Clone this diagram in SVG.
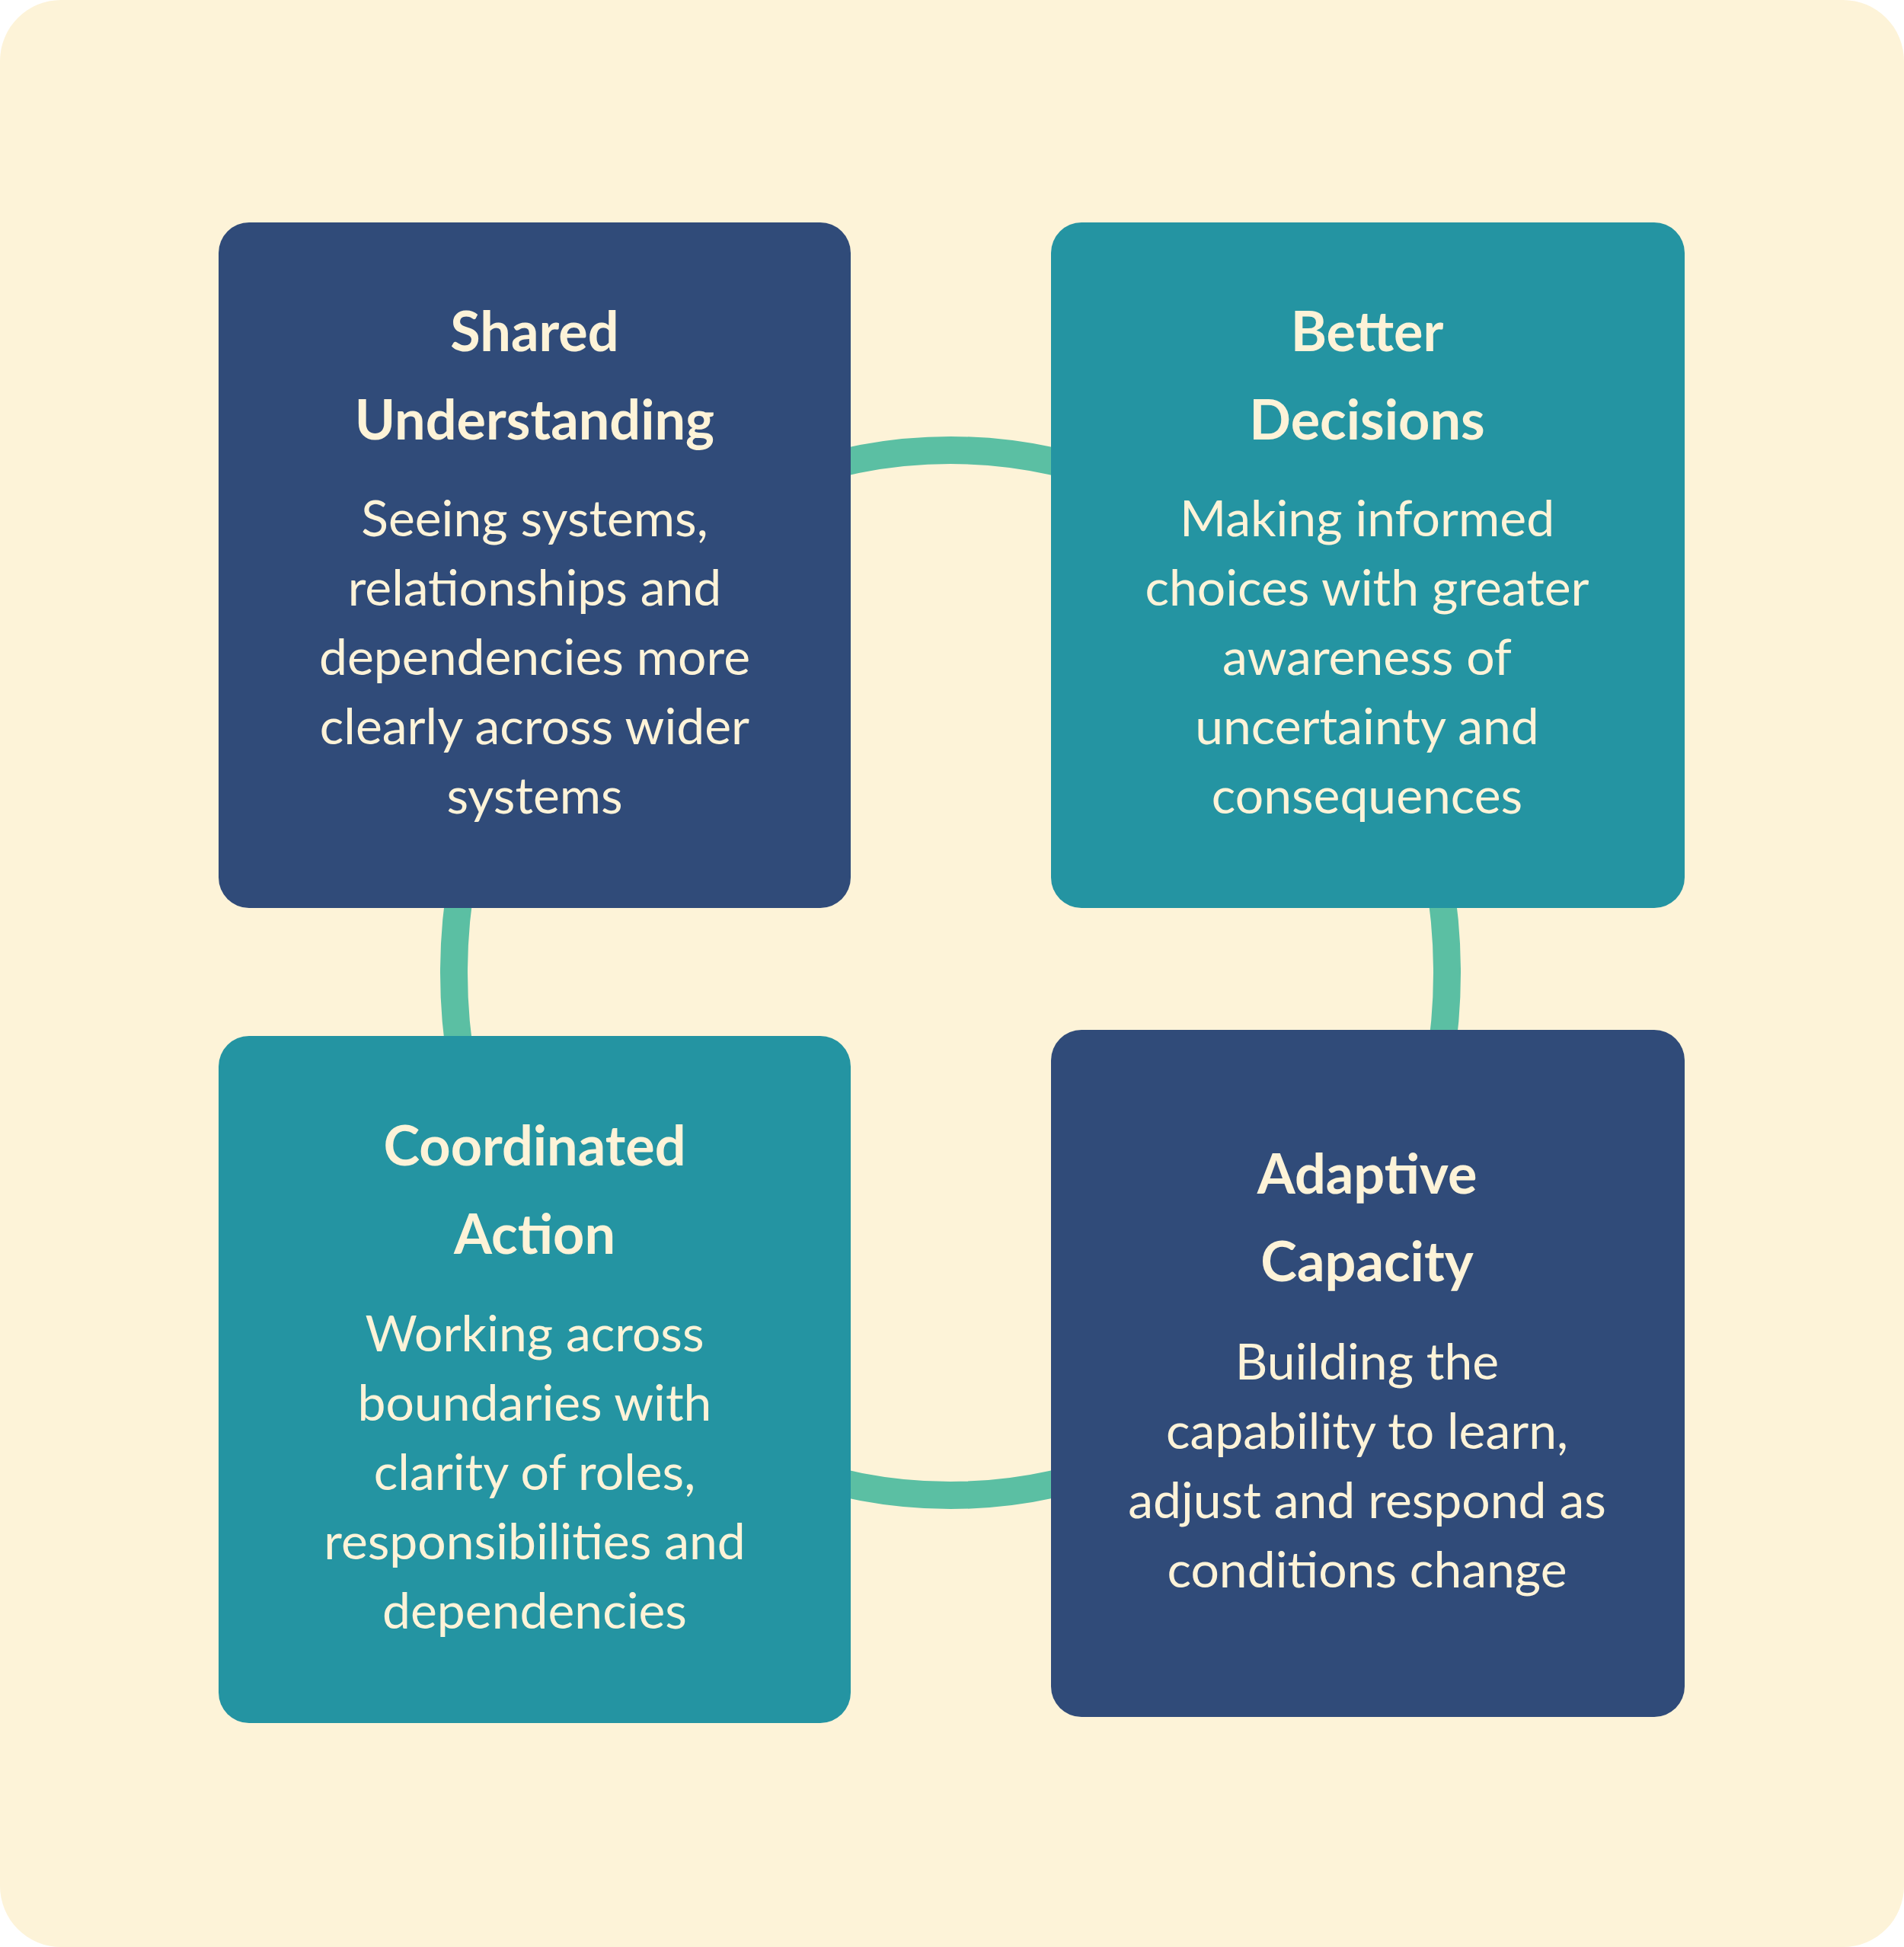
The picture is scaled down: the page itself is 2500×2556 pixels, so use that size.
<svg xmlns="http://www.w3.org/2000/svg" width="2500" height="2556" viewBox="0 0 2500 2556">
<style>
.t{font-family:Lato,"Open Sans",sans-serif;font-weight:700;font-size:72px;fill:#FDF3D8;text-anchor:middle}
.b{font-family:Lato,"Open Sans",sans-serif;font-size:66px;fill:#FDF3D8;text-anchor:middle}
.navy{fill:#304B79}.teal{fill:#2494A2}
</style>
<rect x="0" y="0" width="2500" height="2556" rx="80" fill="#FDF3D8"/>
<g id="connectors"><ellipse cx="1248" cy="1277" rx="652" ry="686" fill="none" stroke="#5BBFA3" stroke-width="36"/></g>
<g id="shared"><rect class="navy" x="287" y="292" width="830" height="900" rx="40"/>
<text class="t" x="702" y="461">Shared</text><text class="t" x="702" y="577">Understanding</text>
<text class="b" x="702" y="704">Seeing systems,</text><text class="b" x="702" y="795">relationships and</text><text class="b" x="702" y="886">dependencies more</text><text class="b" x="702" y="977">clearly across wider</text><text class="b" x="702" y="1068">systems</text></g>
<g id="better"><rect class="teal" x="1380" y="292" width="832" height="900" rx="40"/>
<text class="t" x="1795" y="461">Better</text><text class="t" x="1795" y="577">Decisions</text>
<text class="b" x="1795" y="704">Making informed</text><text class="b" x="1795" y="795">choices with greater</text><text class="b" x="1795" y="886">awareness of</text><text class="b" x="1795" y="977">uncertainty and</text><text class="b" x="1795" y="1068">consequences</text></g>
<g id="coordinated"><rect class="teal" x="287" y="1360" width="830" height="902" rx="40"/>
<text class="t" x="702" y="1530">Coordinated</text><text class="t" x="702" y="1646">Action</text>
<text class="b" x="702" y="1774">Working across</text><text class="b" x="702" y="1865">boundaries with</text><text class="b" x="702" y="1956">clarity of roles,</text><text class="b" x="702" y="2047">responsibilities and</text><text class="b" x="702" y="2138">dependencies</text></g>
<g id="adaptive"><rect class="navy" x="1380" y="1352" width="832" height="902" rx="40"/>
<text class="t" x="1795" y="1567">Adaptive</text><text class="t" x="1795" y="1682">Capacity</text>
<text class="b" x="1795" y="1811">Building the</text><text class="b" x="1795" y="1902">capability to learn,</text><text class="b" x="1795" y="1993">adjust and respond as</text><text class="b" x="1795" y="2084">conditions change</text></g>
</svg>
